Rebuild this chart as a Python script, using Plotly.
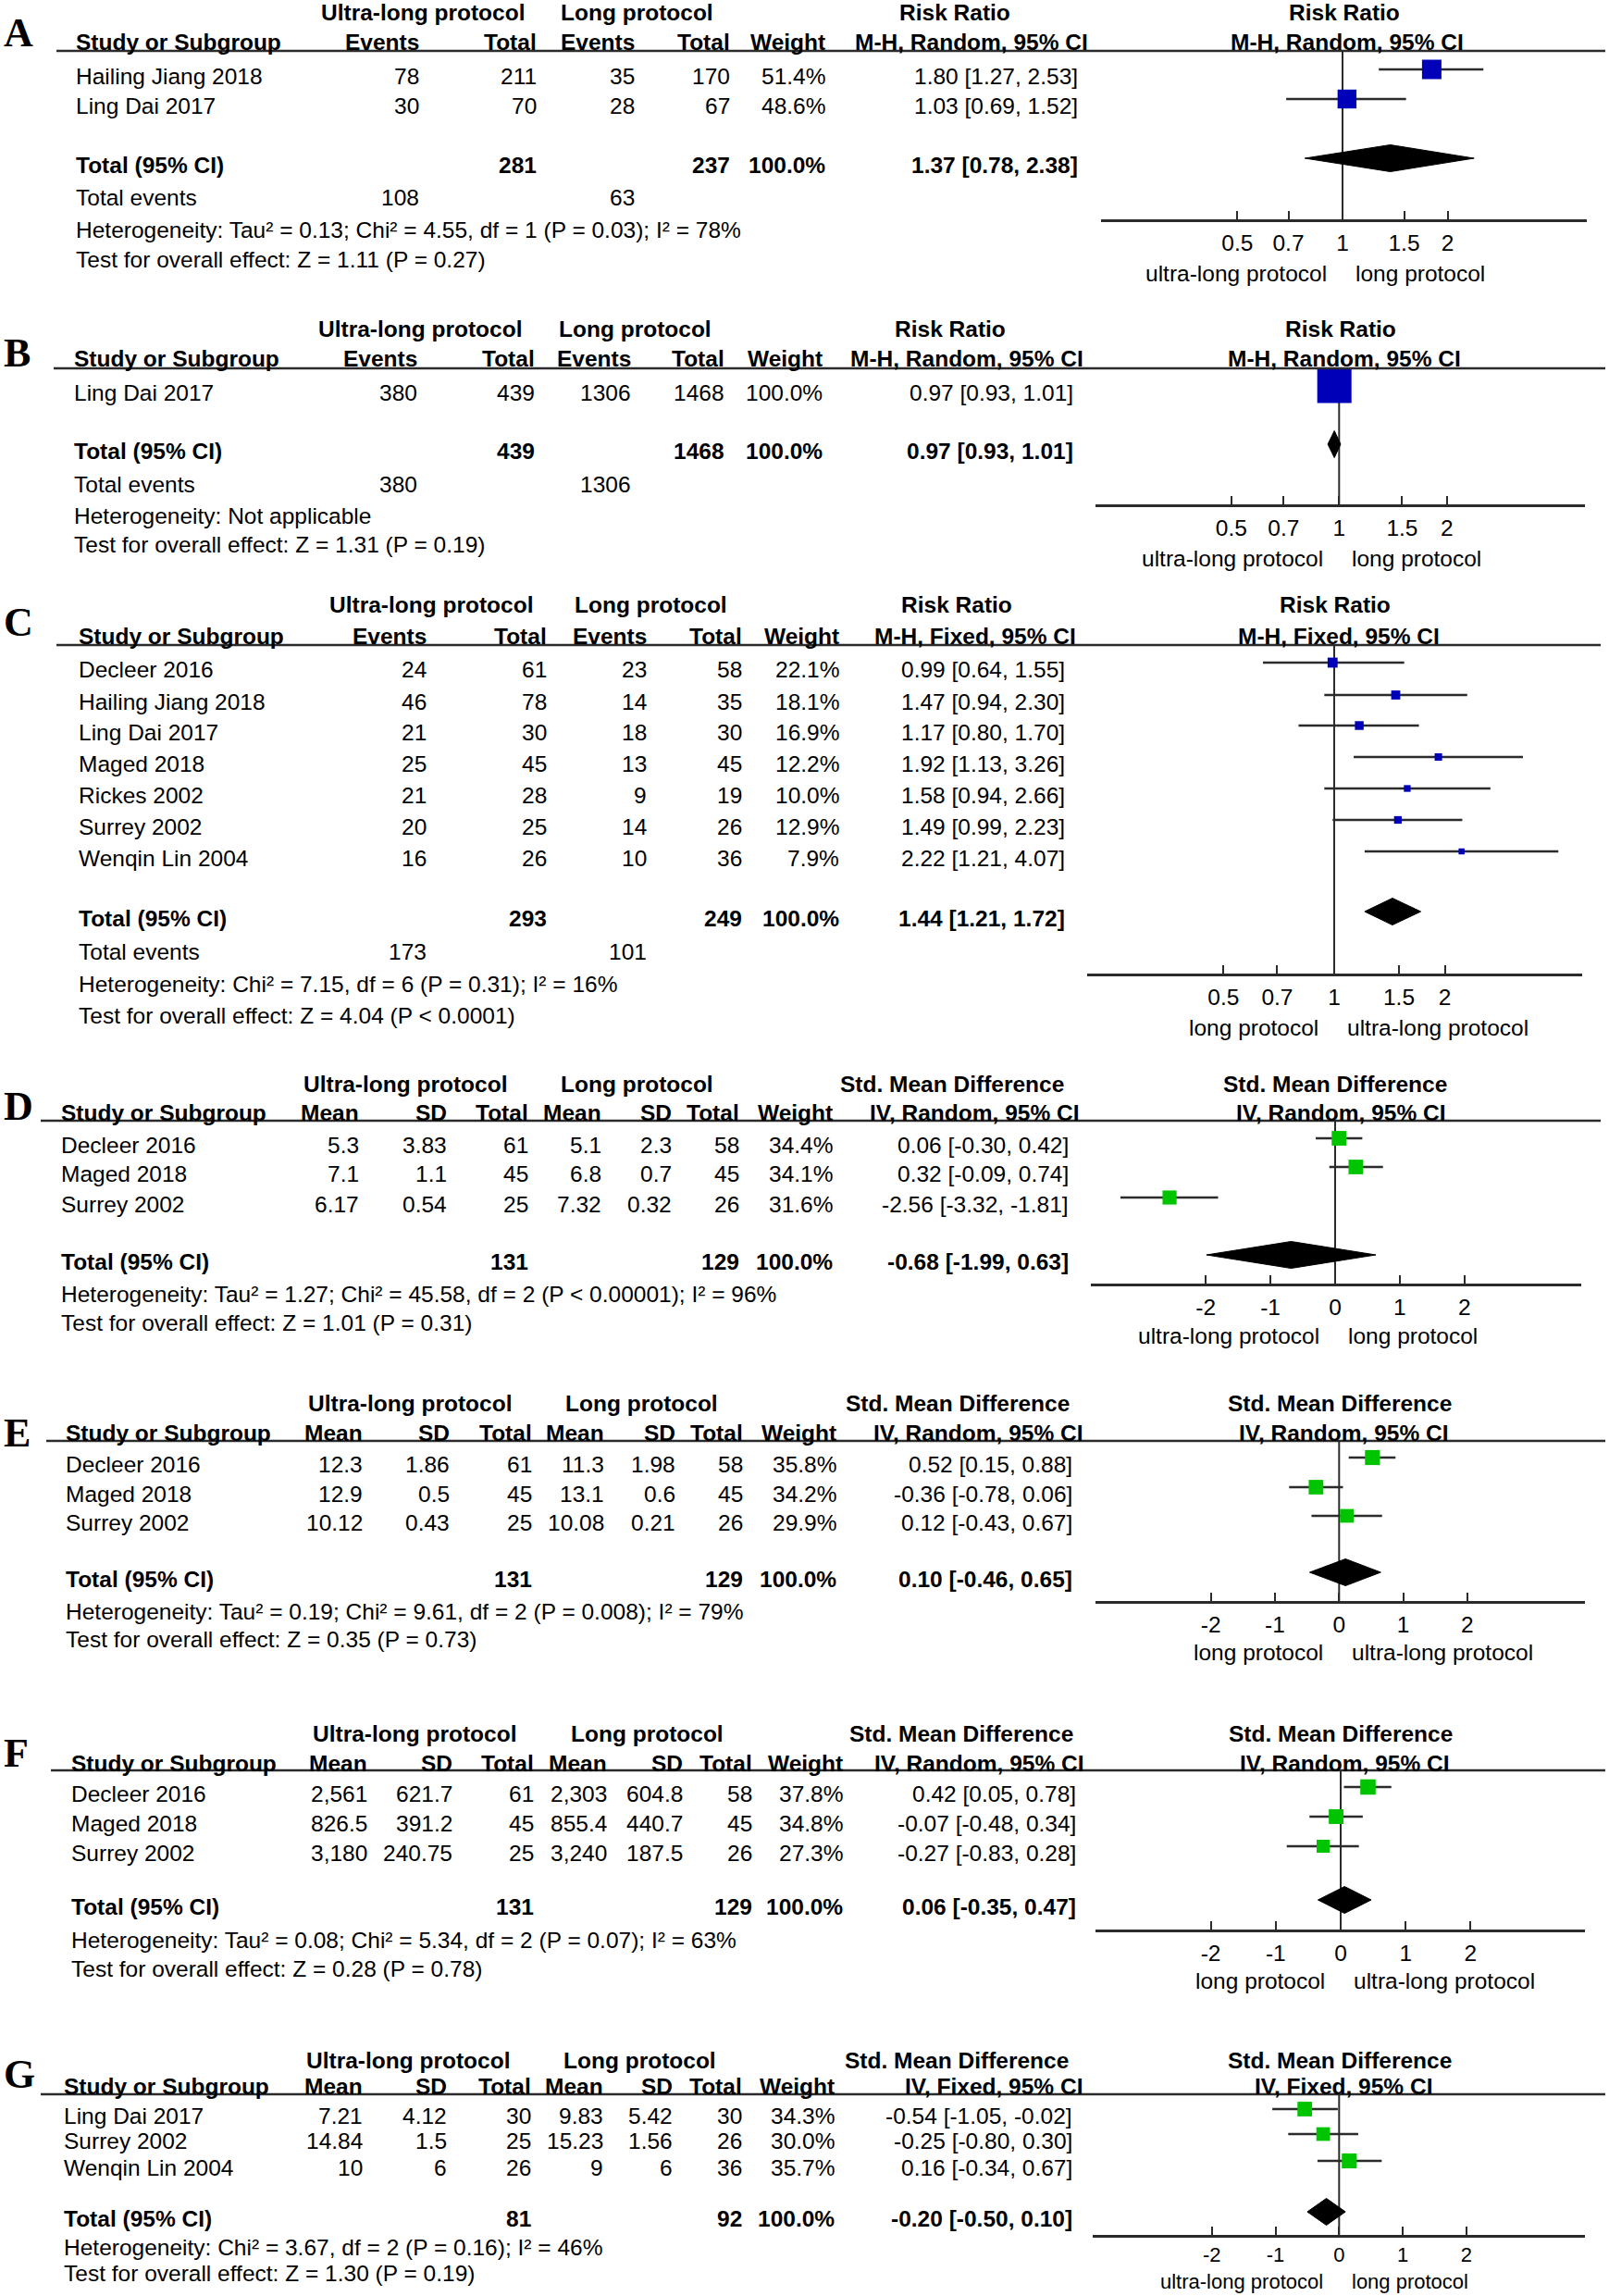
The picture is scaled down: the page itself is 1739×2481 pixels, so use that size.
import math
import plotly.graph_objects as go

W, H = 1739, 2481
FONT = "Arial, 'Liberation Sans', Helvetica, sans-serif"
SERIF = "'Times New Roman', 'Liberation Serif', serif"
FS = 24.5

# ------------------------------------------------------------------ DATA
# Panel A  (Risk Ratio, M-H Random)
A_studies = ["Hailing Jiang 2018", "Ling Dai 2017"]
A_ev_ultra = [78, 30]
A_n_ultra = [211, 70]
A_ev_long = [35, 28]
A_n_long = [170, 67]
A_weight = [51.4, 48.6]
A_est = [1.80, 1.03]
A_lo = [1.27, 0.69]
A_hi = [2.53, 1.52]
A_tot_n = [281, 237]
A_tot_events = [108, 63]
A_tot_ci = [1.37, 0.78, 2.38]
A_het = "Heterogeneity: Tau² = 0.13; Chi² = 4.55, df = 1 (P = 0.03); I² = 78%"
A_test = "Test for overall effect: Z = 1.11 (P = 0.27)"

# Panel B  (Risk Ratio, M-H Random)
B_studies = ["Ling Dai 2017"]
B_ev_ultra = [380]
B_n_ultra = [439]
B_ev_long = [1306]
B_n_long = [1468]
B_weight = [100.0]
B_est = [0.97]
B_lo = [0.93]
B_hi = [1.01]
B_tot_n = [439, 1468]
B_tot_events = [380, 1306]
B_tot_ci = [0.97, 0.93, 1.01]
B_het = "Heterogeneity: Not applicable"
B_test = "Test for overall effect: Z = 1.31 (P = 0.19)"

# Panel C  (Risk Ratio, M-H Fixed)
C_studies = ["Decleer 2016", "Hailing Jiang 2018", "Ling Dai 2017", "Maged 2018",
             "Rickes 2002", "Surrey 2002", "Wenqin Lin 2004"]
C_ev_ultra = [24, 46, 21, 25, 21, 20, 16]
C_n_ultra = [61, 78, 30, 45, 28, 25, 26]
C_ev_long = [23, 14, 18, 13, 9, 14, 10]
C_n_long = [58, 35, 30, 45, 19, 26, 36]
C_weight = [22.1, 18.1, 16.9, 12.2, 10.0, 12.9, 7.9]
C_est = [0.99, 1.47, 1.17, 1.92, 1.58, 1.49, 2.22]
C_lo = [0.64, 0.94, 0.80, 1.13, 0.94, 0.99, 1.21]
C_hi = [1.55, 2.30, 1.70, 3.26, 2.66, 2.23, 4.07]
C_tot_n = [293, 249]
C_tot_events = [173, 101]
C_tot_ci = [1.44, 1.21, 1.72]
C_het = "Heterogeneity: Chi² = 7.15, df = 6 (P = 0.31); I² = 16%"
C_test = "Test for overall effect: Z = 4.04 (P < 0.0001)"

# Panel D  (Std. Mean Difference, IV Random)
D_studies = ["Decleer 2016", "Maged 2018", "Surrey 2002"]
D_mean_ultra = [5.3, 7.1, 6.17]
D_sd_ultra = [3.83, 1.1, 0.54]
D_n_ultra = [61, 45, 25]
D_mean_long = [5.1, 6.8, 7.32]
D_sd_long = [2.3, 0.7, 0.32]
D_n_long = [58, 45, 26]
D_weight = [34.4, 34.1, 31.6]
D_est = [0.06, 0.32, -2.56]
D_lo = [-0.30, -0.09, -3.32]
D_hi = [0.42, 0.74, -1.81]
D_tot_n = [131, 129]
D_tot_ci = [-0.68, -1.99, 0.63]
D_het = "Heterogeneity: Tau² = 1.27; Chi² = 45.58, df = 2 (P < 0.00001); I² = 96%"
D_test = "Test for overall effect: Z = 1.01 (P = 0.31)"

# Panel E  (Std. Mean Difference, IV Random)
E_studies = ["Decleer 2016", "Maged 2018", "Surrey 2002"]
E_mean_ultra = [12.3, 12.9, 10.12]
E_sd_ultra = [1.86, 0.5, 0.43]
E_n_ultra = [61, 45, 25]
E_mean_long = [11.3, 13.1, 10.08]
E_sd_long = [1.98, 0.6, 0.21]
E_n_long = [58, 45, 26]
E_weight = [35.8, 34.2, 29.9]
E_est = [0.52, -0.36, 0.12]
E_lo = [0.15, -0.78, -0.43]
E_hi = [0.88, 0.06, 0.67]
E_tot_n = [131, 129]
E_tot_ci = [0.10, -0.46, 0.65]
E_het = "Heterogeneity: Tau² = 0.19; Chi² = 9.61, df = 2 (P = 0.008); I² = 79%"
E_test = "Test for overall effect: Z = 0.35 (P = 0.73)"

# Panel F  (Std. Mean Difference, IV Random)
F_studies = ["Decleer 2016", "Maged 2018", "Surrey 2002"]
F_mean_ultra = [2561, 826.5, 3180]
F_sd_ultra = [621.7, 391.2, 240.75]
F_n_ultra = [61, 45, 25]
F_mean_long = [2303, 855.4, 3240]
F_sd_long = [604.8, 440.7, 187.5]
F_n_long = [58, 45, 26]
F_weight = [37.8, 34.8, 27.3]
F_est = [0.42, -0.07, -0.27]
F_lo = [0.05, -0.48, -0.83]
F_hi = [0.78, 0.34, 0.28]
F_tot_n = [131, 129]
F_tot_ci = [0.06, -0.35, 0.47]
F_het = "Heterogeneity: Tau² = 0.08; Chi² = 5.34, df = 2 (P = 0.07); I² = 63%"
F_test = "Test for overall effect: Z = 0.28 (P = 0.78)"

# Panel G  (Std. Mean Difference, IV Fixed)
G_studies = ["Ling Dai 2017", "Surrey 2002", "Wenqin Lin 2004"]
G_mean_ultra = [7.21, 14.84, 10]
G_sd_ultra = [4.12, 1.5, 6]
G_n_ultra = [30, 25, 26]
G_mean_long = [9.83, 15.23, 9]
G_sd_long = [5.42, 1.56, 6]
G_n_long = [30, 26, 36]
G_weight = [34.3, 30.0, 35.7]
G_est = [-0.54, -0.25, 0.16]
G_lo = [-1.05, -0.80, -0.34]
G_hi = [-0.02, 0.30, 0.67]
G_tot_n = [81, 92]
G_tot_ci = [-0.20, -0.50, 0.10]
G_het = "Heterogeneity: Chi² = 3.67, df = 2 (P = 0.16); I² = 46%"
G_test = "Test for overall effect: Z = 1.30 (P = 0.19)"

# axis tick labels
RR_ticks = [0.5, 0.7, 1, 1.5, 2]
SMD_ticks = [-2, -1, 0, 1, 2]
DICH_HEAD = ["Events", "Total", "Events", "Total"]
CONT_HEAD = ["Mean", "SD", "Total", "Mean", "SD", "Total"]
ULTRA = "ultra-long protocol"
LONG = "long protocol"

# ------------------------------------------------------------------ PANELS (data refs + layout in px)
panels = [
    dict(letter="A", kind="dich", eff="Risk Ratio", meth="M-H, Random, 95% CI",
         studies=A_studies, vals=[A_ev_ultra, A_n_ultra, A_ev_long, A_n_long],
         w=A_weight, est=A_est, lo=A_lo, hi=A_hi, tot_n=A_tot_n, tot_events=A_tot_events,
         tot_ci=A_tot_ci, het=A_het, test=A_test, left=ULTRA, right=LONG,
         Y=dict(h1=13, h2=45, line=55, rows=[82, 114], total=178, events=213, het=248, test=280,
                axis=238, side=295, letter=35),
         X=dict(study=80, cols=[454.7, 582.2, 687.6, 790.7], w=893.9, ci=1166.7, cih=1177.8,
                g1=457, g2=688.7, eff=1032, feff=1452.8, fmeth=1456, hl=(61, 1735)),
         F=dict(null=1451, k=164, x0=1189.6, x1=1715, sk=2.93, tfs=FS, so=2)),
    dict(letter="B", kind="dich", eff="Risk Ratio", meth="M-H, Random, 95% CI",
         studies=B_studies, vals=[B_ev_ultra, B_n_ultra, B_ev_long, B_n_long],
         w=B_weight, est=B_est, lo=B_lo, hi=B_hi, tot_n=B_tot_n, tot_events=B_tot_events,
         tot_ci=B_tot_ci, het=B_het, test=B_test, left=ULTRA, right=LONG,
         Y=dict(h1=355, h2=387, line=398, rows=[424], total=487, events=523, het=557, test=588,
                axis=546, side=603, letter=381),
         X=dict(study=77.6, cols=[452.5, 580, 684.3, 785.2], w=890.5, ci=1162.2, cih=1173.3,
                g1=453.6, g2=686.5, eff=1027, feff=1449, fmeth=1452.8, hl=(58, 1735)),
         F=dict(null=1447.3, k=168, x0=1184.4, x1=1713.4, sk=3.7, tfs=FS, so=2)),
    dict(letter="C", kind="dich", eff="Risk Ratio", meth="M-H, Fixed, 95% CI",
         studies=C_studies, vals=[C_ev_ultra, C_n_ultra, C_ev_long, C_n_long],
         w=C_weight, est=C_est, lo=C_lo, hi=C_hi, tot_n=C_tot_n, tot_events=C_tot_events,
         tot_ci=C_tot_ci, het=C_het, test=C_test, left=LONG, right=ULTRA,
         Y=dict(h1=653, h2=687, line=697, rows=[723, 758, 791, 825, 859, 893, 927], total=992, events=1028,
                het=1063, test=1097, axis=1053, side=1110, letter=672),
         X=dict(study=83.2, cols=[462.5, 593.3, 700.9, 804], w=909.4, ci=1153.4, cih=1164.5,
                g1=465.8, g2=703.1, eff=1033.6, feff=1442.8, fmeth=1447.3, hl=(61, 1730)),
         F=dict(null=1442, k=172.6, x0=1174.5, x1=1709.5, sk=2.3, tfs=FS, so=2)),
    dict(letter="D", kind="cont", eff="Std. Mean Difference", meth="IV, Random, 95% CI",
         studies=D_studies, vals=[D_mean_ultra, D_sd_ultra, D_n_ultra, D_mean_long, D_sd_long, D_n_long],
         w=D_weight, est=D_est, lo=D_lo, hi=D_hi, tot_n=D_tot_n, tot_events=None,
         tot_ci=D_tot_ci, het=D_het, test=D_test, left=ULTRA, right=LONG,
         Y=dict(h1=1171, h2=1202, line=1211, rows=[1237, 1268, 1301], total=1363, events=None,
                het=1398, test=1429, axis=1388, side=1443, letter=1195),
         X=dict(study=64.3, cols=[390.4, 484.6, 573.4, 652.1, 727.5, 800.7], w=901.6, ci=1156.7, cih=1167.8,
                g1=438, g2=688.7, eff=1029.2, feff=1443.4, fmeth=1449, hl=(44, 1730)),
         F=dict(null=1443, k=69.9, x0=1179, x1=1709, sk=2.7, tfs=FS, so=2)),
    dict(letter="E", kind="cont", eff="Std. Mean Difference", meth="IV, Random, 95% CI",
         studies=E_studies, vals=[E_mean_ultra, E_sd_ultra, E_n_ultra, E_mean_long, E_sd_long, E_n_long],
         w=E_weight, est=E_est, lo=E_lo, hi=E_hi, tot_n=E_tot_n, tot_events=None,
         tot_ci=E_tot_ci, het=E_het, test=E_test, left=LONG, right=ULTRA,
         Y=dict(h1=1516, h2=1548, line=1557, rows=[1582, 1614, 1645], total=1706, events=None,
                het=1741, test=1771, axis=1731, side=1785, letter=1548),
         X=dict(study=68.8, cols=[393.7, 488, 576.7, 655.4, 732, 805.1], w=906, ci=1161, cih=1172.2,
                g1=443, g2=693.1, eff=1034.7, feff=1447.8, fmeth=1451.7, hl=(50, 1735)),
         F=dict(null=1447.3, k=69.3, x0=1184.4, x1=1713.4, sk=2.7, tfs=FS, so=2)),
    dict(letter="F", kind="cont", eff="Std. Mean Difference", meth="IV, Random, 95% CI",
         studies=F_studies, vals=[F_mean_ultra, F_sd_ultra, F_n_ultra, F_mean_long, F_sd_long, F_n_long],
         w=F_weight, est=F_est, lo=F_lo, hi=F_hi, tot_n=F_tot_n, tot_events=None,
         tot_ci=F_tot_ci, het=F_het, test=F_test, left=LONG, right=ULTRA,
         Y=dict(h1=1873, h2=1905, line=1913, rows=[1938, 1970, 2002], total=2060, events=None,
                het=2096, test=2127, axis=2086, side=2140, letter=1894),
         X=dict(study=75.4, cols=[399.2, 491.3, 578.9, 657.6, 739.7, 815.1], w=912.7, ci=1164.5, cih=1173.3,
                g1=447.5, g2=699.2, eff=1038.6, feff=1449, fmeth=1452.8, hl=(55, 1735)),
         F=dict(null=1449, k=70.2, x0=1184.4, x1=1713.4, sk=2.7, tfs=FS, so=2)),
    dict(letter="G", kind="cont", eff="Std. Mean Difference", meth="IV, Fixed, 95% CI",
         studies=G_studies, vals=[G_mean_ultra, G_sd_ultra, G_n_ultra, G_mean_long, G_sd_long, G_n_long],
         w=G_weight, est=G_est, lo=G_lo, hi=G_hi, tot_n=G_tot_n, tot_events=None,
         tot_ci=G_tot_ci, het=G_het, test=G_test, left=ULTRA, right=LONG,
         Y=dict(h1=2226, h2=2254, line=2263, rows=[2286, 2313, 2342], total=2397, events=None,
                het=2428, test=2456, axis=2416, side=2465, letter=2241),
         X=dict(study=66.5, cols=[393.7, 484.6, 575.6, 654.3, 728.6, 804], w=903.9, ci=1161.1, cih=1172.2,
                g1=440.8, g2=691.5, eff=1034.2, feff=1447.8, fmeth=1452.2, hl=(44, 1735)),
         F=dict(null=1447.3, k=68.75, x0=1181, x1=1713.4, sk=2.7, tfs=22, so=0)),
]

# ------------------------------------------------------------------ BUILD
fig = go.Figure()
ann = []
shapes = []
MDY = -7      # marker offset from text centre (px)
DH = 14.5     # diamond half height (px)
LINEC = "#2b2b2b"


def txt(x, y, s, anchor="left", bold=False, size=FS, family=FONT, xref="x", xshift=0):
    ann.append(dict(x=x, y=y, xref=xref, yref="y", text=(f"<b>{s}</b>" if bold else s),
                    showarrow=False, xanchor=anchor, yanchor="middle", xshift=xshift,
                    font=dict(size=size, family=family, color="#000")))


def fmt_val(v, dich):
    return str(v) if dich else format(v, ",")


def fmt_ci(e, l, h):
    return f"{e:.2f} [{l:.2f}, {h:.2f}]"


layout_axes = {}
for i, p in enumerate(panels):
    Y, X, Fp = p["Y"], p["X"], p["F"]
    dich = p["kind"] == "dich"
    ax = f"x{i + 2}"
    axname = f"xaxis{i + 2}"

    # panel letter
    txt(2, Y["letter"], f"<b>{p['letter']}</b>", size=44, family=SERIF)

    # header row 1
    txt(X["g1"], Y["h1"], "Ultra-long protocol", "center", bold=True)
    txt(X["g2"], Y["h1"], "Long protocol", "center", bold=True)
    txt(X["eff"], Y["h1"], p["eff"], "center", bold=True)
    txt(X["feff"], Y["h1"], p["eff"], "center", bold=True)
    # header row 2
    txt(X["study"], Y["h2"], "Study or Subgroup", "left", bold=True)
    heads = DICH_HEAD if dich else CONT_HEAD
    for cx, hname in zip(X["cols"], heads):
        txt(cx, Y["h2"], hname, "right", bold=True)
    txt(X["w"], Y["h2"], "Weight", "right", bold=True)
    txt(X["cih"], Y["h2"], p["meth"], "right", bold=True)
    txt(X["fmeth"], Y["h2"], p["meth"], "center", bold=True)

    # header rule
    shapes.append(dict(type="line", xref="x", yref="y", x0=X["hl"][0], x1=X["hl"][1],
                       y0=Y["line"], y1=Y["line"], line=dict(color=LINEC, width=2.6)))

    # study rows
    for j, name in enumerate(p["studies"]):
        ry = Y["rows"][j]
        txt(X["study"], ry, name)
        for cx, col in zip(X["cols"], p["vals"]):
            txt(cx, ry, fmt_val(col[j], dich), "right")
        txt(X["w"], ry, f"{p['w'][j]:.1f}%", "right")
        txt(X["ci"], ry, fmt_ci(p["est"][j], p["lo"][j], p["hi"][j]), "right")

    # total row
    ty = Y["total"]
    txt(X["study"], ty, "Total (95% CI)", bold=True)
    idx = (1, 3) if dich else (2, 5)
    txt(X["cols"][idx[0]], ty, str(p["tot_n"][0]), "right", bold=True)
    txt(X["cols"][idx[1]], ty, str(p["tot_n"][1]), "right", bold=True)
    txt(X["w"], ty, "100.0%", "right", bold=True)
    txt(X["ci"], ty, fmt_ci(*p["tot_ci"]), "right", bold=True)
    if p["tot_events"] is not None:
        txt(X["study"], Y["events"], "Total events")
        txt(X["cols"][0], Y["events"], str(p["tot_events"][0]), "right")
        txt(X["cols"][2], Y["events"], str(p["tot_events"][1]), "right")
    txt(X["study"], Y["het"], p["het"])
    txt(X["study"], Y["test"], p["test"])

    # ---------------- forest part
    lo_u = (Fp["x0"] - Fp["null"]) / Fp["k"]
    hi_u = (Fp["x1"] - Fp["null"]) / Fp["k"]
    if dich:
        rng = [lo_u / math.log(10), hi_u / math.log(10)]
        tv = RR_ticks
        null_v = 1
    else:
        rng = [lo_u, hi_u]
        tv = SMD_ticks
        null_v = 0
    layout_axes[axname] = dict(
        domain=[Fp["x0"] / W, Fp["x1"] / W], range=rng, type="log" if dich else "linear",
        anchor="free", position=1 - Y["axis"] / H, side="bottom",
        showline=True, linecolor=LINEC, linewidth=2.6, showgrid=False, zeroline=False,
        ticks="inside", ticklen=9, tickwidth=2, tickcolor=LINEC,
        tickvals=tv, ticktext=[str(t) for t in tv], ticklabelstandoff=Fp["so"],
        tickfont=dict(size=Fp["tfs"], family=FONT, color="#000"), fixedrange=True,
    )

    # null line
    fig.add_trace(go.Scatter(x=[null_v, null_v], y=[Y["line"], Y["axis"]], xaxis=ax, yaxis="y",
                             mode="lines", line=dict(color=LINEC, width=2), hoverinfo="skip",
                             showlegend=False))
    # CI whiskers
    cx, cy = [], []
    for j in range(len(p["studies"])):
        ry = Y["rows"][j] + MDY
        cx += [p["lo"][j], p["hi"][j], None]
        cy += [ry, ry, None]
    fig.add_trace(go.Scatter(x=cx, y=cy, xaxis=ax, yaxis="y", mode="lines",
                             line=dict(color=LINEC, width=2.3), hoverinfo="skip", showlegend=False))
    # squares
    fig.add_trace(go.Scatter(
        x=p["est"], y=[r + MDY for r in Y["rows"][:len(p["studies"])]], xaxis=ax, yaxis="y",
        mode="markers",
        marker=dict(symbol="square", size=[Fp["sk"] * math.sqrt(w) for w in p["w"]],
                    color="#0000b8" if dich else "#00c400", opacity=1, line=dict(width=0)),
        hoverinfo="skip", showlegend=False))
    # diamond
    e, l, h = p["tot_ci"]
    dy = ty + MDY
    fig.add_trace(go.Scatter(x=[l, e, h, e, l], y=[dy, dy - DH, dy, dy + DH, dy], xaxis=ax, yaxis="y",
                             mode="lines", fill="toself", fillcolor="#000",
                             line=dict(color="#000", width=1), hoverinfo="skip", showlegend=False))

    # tick-side labels
    txt(Fp["null"], Y["side"], p["left"], "right", xshift=-15, size=Fp["tfs"])
    txt(Fp["null"], Y["side"], p["right"], "left", xshift=12, size=Fp["tfs"])

fig.update_layout(
    width=W, height=H, margin=dict(l=0, r=0, t=0, b=0),
    paper_bgcolor="white", plot_bgcolor="rgba(0,0,0,0)",
    font=dict(family=FONT, size=FS, color="#000"),
    xaxis=dict(range=[0, W], domain=[0, 1], visible=False, fixedrange=True),
    yaxis=dict(range=[H, 0], domain=[0, 1], visible=False, fixedrange=True),
    annotations=ann, shapes=shapes, showlegend=False,
    **layout_axes,
)

fig.write_html("out.html", config={"displayModeBar": False},
               post_script="document.body.style.margin='0';document.body.style.overflow='hidden';")
